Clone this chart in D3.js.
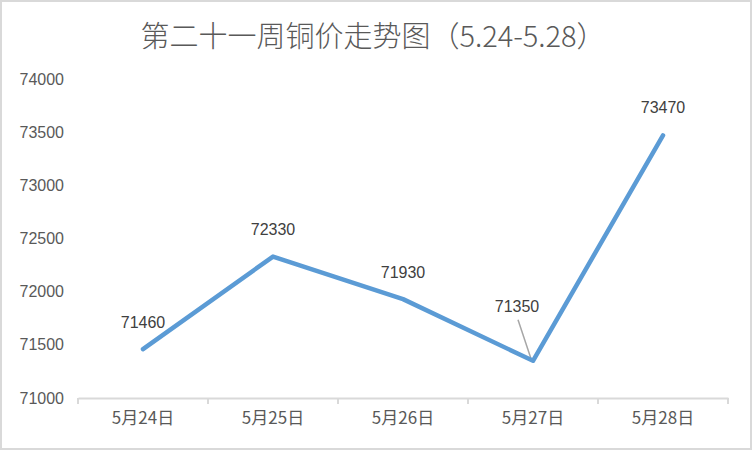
<!DOCTYPE html>
<html><head><meta charset="utf-8">
<script src="https://cdn.jsdelivr.net/npm/d3@7"></script>
<style>
html,body{margin:0;padding:0;background:#fff;}
svg{display:block;}
</style>
</head><body>
<svg id="c" width="752" height="450"></svg>
<script>
const title = "第二十一周铜价走势图（5.24-5.28）";
const categories = ["5月24日","5月25日","5月26日","5月27日","5月28日"];
const prices = [71460, 72330, 71930, 71350, 73470];
const yTicks = [71000, 71500, 72000, 72500, 73000, 73500, 74000];

const svg = d3.select("#c");
const W = 752, H = 450;
const margin = {left: 78, right: 24, top: 79, bottom: 52};
const txt = "#595959";
const numFont = "'Liberation Sans', Arial, sans-serif";
const cjkFont = "'Noto Sans CJK SC', 'Noto Sans', sans-serif";

svg.append("rect").attr("x",1).attr("y",1).attr("width",W-2).attr("height",H-2)
  .attr("fill","#fff").attr("stroke","#d9d9d9").attr("stroke-width",2);

svg.append("text").attr("x",373).attr("y",47).attr("text-anchor","middle")
  .attr("font-family",cjkFont).attr("font-weight",300).attr("font-size",29)
  .attr("fill",txt).text(title);

const x = d3.scaleBand().domain(categories).range([margin.left, W - margin.right]);
const y = d3.scaleLinear().domain([71000, 74000]).range([H - margin.bottom, margin.top]);

// y axis labels
const yAxis = d3.axisLeft(y).tickValues(yTicks).tickSize(0).tickPadding(14).tickFormat(d3.format("d"));
const gy = svg.append("g").attr("transform",`translate(${margin.left},0)`).call(yAxis);
gy.select(".domain").remove();
gy.selectAll("text").attr("font-family",numFont).attr("font-size",16).attr("fill",txt);

// x axis
const xAxis = d3.axisBottom(x).tickSize(0).tickPadding(14);
const gx = svg.append("g").attr("transform",`translate(0,${y(71000)})`).call(xAxis);
gx.select(".domain").attr("stroke","#d9d9d9").attr("stroke-width",2);
gx.selectAll("text").attr("font-family",cjkFont).attr("font-size",17).attr("fill",txt);
// tick marks at band boundaries
const bounds = categories.map(c => x(c)).concat([x(categories[categories.length-1]) + x.bandwidth()]);
gx.selectAll(".bound").data(bounds).enter().append("line")
  .attr("x1",d=>d).attr("x2",d=>d).attr("y1",0).attr("y2",6)
  .attr("stroke","#d9d9d9").attr("stroke-width",2);

const cx = c => x(c) + x.bandwidth()/2;
const pts = categories.map((c,i)=>({c, v: prices[i]}));

// leader line for 71350
svg.append("line")
  .attr("x1", cx(categories[3]) - 15).attr("y1", y(prices[3]) - 41)
  .attr("x2", cx(categories[3]) - 2).attr("y2", y(prices[3]) - 2)
  .attr("stroke","#a6a6a6").attr("stroke-width",1.5);

const line = d3.line().x(d=>cx(d.c)).y(d=>y(d.v));
svg.append("path").datum(pts).attr("d",line).attr("fill","none")
  .attr("stroke","#5B9BD5").attr("stroke-width",4.5).attr("stroke-linejoin","round").attr("stroke-linecap","round");

// data labels
const offsets = [{dx:0,dy:-21},{dx:0,dy:-22},{dx:0,dy:-21},{dx:-16,dy:-49},{dx:0,dy:-22}];
svg.selectAll(".lbl").data(pts).enter().append("text")
  .attr("x",(d,i)=>cx(d.c)+offsets[i].dx).attr("y",(d,i)=>y(d.v)+offsets[i].dy)
  .attr("text-anchor","middle").attr("font-family",numFont).attr("font-size",16)
  .attr("fill","#404040").text(d=>d.v);
</script>
</body></html>
